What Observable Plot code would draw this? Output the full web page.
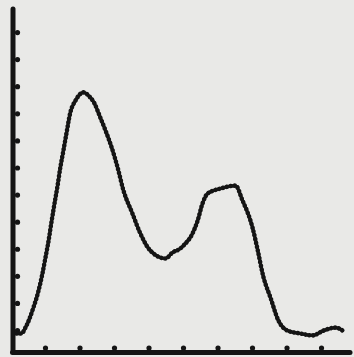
<!DOCTYPE html>
<html>
<head>
<meta charset="utf-8">
<script src="https://cdn.jsdelivr.net/npm/d3@7"></script>
<script src="https://cdn.jsdelivr.net/npm/@observablehq/plot@0.6"></script>
<style>
  html, body { margin: 0; padding: 0; background: #e9e9e7; }
  #chart svg { display: block; }
</style>
</head>
<body>
<div id="chart"></div>
<script>
// Curve (x in tick units, y in tick units)
const xs = [0.16, 0.30, 0.42, 0.65, 0.80, 0.91, 1.00, 1.09, 1.17, 1.26, 1.35, 1.43, 1.52, 1.61, 1.72, 1.87, 2.10, 2.30, 2.39, 2.59, 2.75, 2.92, 3.09, 3.26, 3.52, 3.75, 4.04, 4.48, 4.68, 4.91, 5.00, 5.26, 5.41, 5.55, 5.70, 6.07, 6.51, 6.71, 6.94, 7.00, 7.14, 7.32, 7.52, 7.75, 8.01, 8.39, 8.74, 9.06, 9.41, 9.61];
const ys = [0.89, 0.89, 1.11, 1.85, 2.48, 3.10, 3.70, 4.32, 4.98, 5.68, 6.35, 7.02, 7.65, 8.30, 9.05, 9.49, 9.79, 9.60, 9.45, 8.86, 8.35, 7.75, 7.02, 6.17, 5.32, 4.58, 3.95, 3.66, 3.88, 4.03, 4.14, 4.58, 5.06, 5.69, 6.06, 6.24, 6.35, 5.80, 5.06, 4.80, 4.03, 2.96, 2.22, 1.37, 1.00, 0.89, 0.82, 1.00, 1.11, 1.00];
const xTicks = [1, 2, 3, 4, 5, 6, 7, 8, 9];
const yTicks = [1, 2, 3, 4, 5, 6, 7, 8, 9, 10, 11, 12];

const xDomain = [0.058, 9.84];
const yDomain = [0.19, 12.85];

const curve = xs.map((x, i) => ({x, y: ys[i]}));
const ink = "#141414";

const chart = Plot.plot({
  width: 354,
  height: 357,
  marginLeft: 12.5,
  marginRight: 4,
  marginTop: 9,
  marginBottom: 5,
  style: {background: "#e9e9e7"},
  x: {domain: xDomain, axis: null},
  y: {domain: yDomain, axis: null},
  marks: [
    Plot.ruleX([xDomain[0]], {y1: yDomain[0], y2: yDomain[1], stroke: ink, strokeWidth: 5, strokeLinecap: "round"}),
    Plot.ruleY([yDomain[0]], {x1: xDomain[0], x2: xDomain[1], stroke: ink, strokeWidth: 5, strokeLinecap: "round"}),
    Plot.dot(yTicks, {x: () => xDomain[0], y: d => d, dx: 4.5, r: 2.6, fill: ink, stroke: "none"}),
    Plot.dot(xTicks, {x: d => d, y: () => yDomain[0], dy: -4.5, r: 2.6, fill: ink, stroke: "none"}),
    Plot.line(curve, {x: "x", y: "y", curve: "monotone-x", stroke: ink, strokeWidth: 3.2, strokeOpacity: 0.9}),
    Plot.line(curve, {x: "x", y: "y", curve: "monotone-x", stroke: ink, strokeWidth: 4.6, strokeLinecap: "round", strokeDasharray: "0.1,3.8"})
  ]
});
document.getElementById("chart").appendChild(chart);
</script>
</body>
</html>
